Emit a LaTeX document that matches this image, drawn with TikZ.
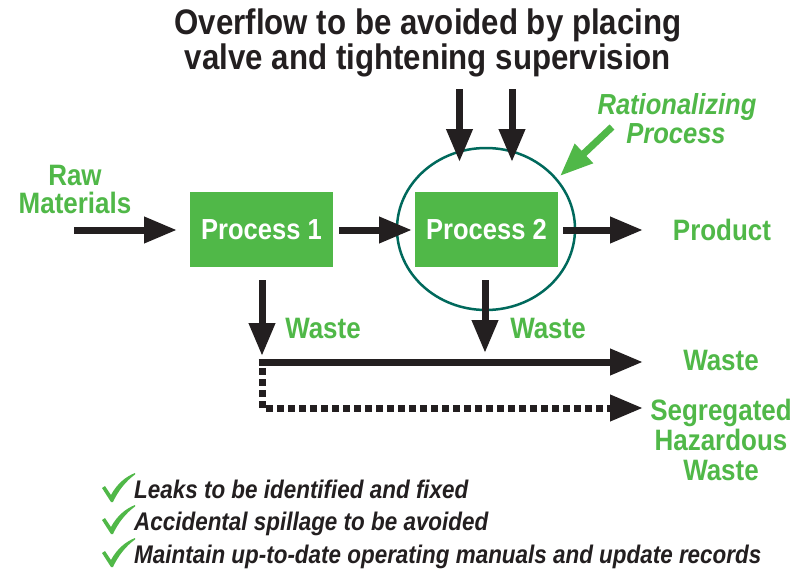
\documentclass[tikz,border=0pt]{standalone}
\usepackage{fontspec}
\setmainfont{Liberation Sans}[FakeStretch=0.88]
\usetikzlibrary{arrows.meta,shapes.geometric}
\definecolor{grn}{RGB}{80,184,72}
\definecolor{ink}{RGB}{35,31,32}
\definecolor{ringc}{RGB}{0,105,92}
\begin{document}
\begin{tikzpicture}[x=1pt,y=-1pt,
  arr/.style={draw=ink, line width=7pt, -{Triangle[length=33pt,width=25pt]}},
  garr/.style={arr, draw=grn},
  darr/.style={arr, dash pattern=on 7pt off 4pt},
  title/.style={text=ink, font=\fontsize{35.5}{31}\selectfont\bfseries, inner sep=0, anchor=base, align=center},
  lbl/.style={text=grn, font=\fontsize{29.5}{30}\selectfont\bfseries, inner sep=0, anchor=base},
  ilbl/.style={text=grn, font=\fontsize{29}{29}\selectfont\bfseries\itshape, inner sep=0, anchor=base},
  proc/.style={fill=grn, text=white, minimum width=143pt, minimum height=75pt, inner sep=0,
               font=\fontsize{29}{30}\selectfont\bfseries},
  note/.style={text=ink, font=\fontsize{25.5}{26}\selectfont\bfseries\itshape, inner sep=0, anchor=base west},
  chk/.pic={\fill[grn] (0,15) -- (3,13) -- (9,22) .. controls (15,11) and (23,4) .. (33,0)
     -- (33,1.5) .. controls (24,8) and (16,18) .. (11,29) -- (9,29) -- cycle;}
]
\path[use as bounding box, fill=white] (0,0) rectangle (804,570);

% title (anchor base = baseline of the last line)
\node[title] (t1) at (428,69) {Overflow to be avoided by placing\\valve and tightening supervision};

% processes
\node[proc] (p1) at (261.5,229.5) {Process 1};
\node[proc] (p2) at (486.5,229.5) {Process 2};
\node[draw=ringc, line width=2.5pt, ellipse, minimum width=178pt, minimum height=162pt, inner sep=0] (ring) at (486,229) {};

% labels
\node[lbl] (raw1) at (75,185) {Raw};
\node[lbl] (raw2) at (75,213) {Materials};
\node[lbl] (prod) at (722,240) {Product};
\node[lbl] (w1) at (323,338) {Waste};
\node[lbl] (w2) at (548,338) {Waste};
\node[lbl] (w3) at (721,370) {Waste};
\node[lbl] (s1) at (721,420) {Segregated};
\node[lbl] (s2) at (721,450) {Hazardous};
\node[lbl] (s3) at (721,480) {Waste};
\node[ilbl] (r1) at (677,114) {Rationalizing};
\node[ilbl] (r2) at (676,143) {Process};

% coordinates for arrows
\coordinate (rawS) at (74,230);
\coordinate (rawE) at (177,230);
\coordinate (p12S) at (339,230);
\coordinate (p12E) at (412,230);
\coordinate (prS) at (563,230);
\coordinate (prE) at (643,230);
\coordinate (o1S) at (459.5,89);
\coordinate (o1E) at (459.5,162);
\coordinate (o2S) at (512,89);
\coordinate (o2E) at (512,162);
\coordinate (gS) at (612,127);
\coordinate (gE) at (560,176);
\coordinate (wa1S) at (262,280);
\coordinate (wa1E) at (262,356);
\coordinate (wa2S) at (485,280);
\coordinate (wa2E) at (485,353);
\coordinate (wlS) at (258.5,362);
\coordinate (wlE) at (643,362);
\coordinate (dS) at (262,368);
\coordinate (dE) at (643,408);

\draw[arr] (rawS) -- (rawE);
\draw[arr] (p12S) -- (p12E);
\draw[arr] (prS) -- (prE);
\draw[arr] (o1S) -- (o1E);
\draw[arr] (o2S) -- (o2E);
\draw[garr] (gS) -- (gE);
\draw[arr] (wa1S) -- (wa1E);
\draw[arr] (wa2S) -- (wa2E);
\draw[arr] (wlS) -- (wlE);
\draw[darr] (dS) |- (dE);

% checklist
\pic at (102,473) {chk};
\pic at (102,505) {chk};
\pic at (102,538) {chk};
\node[note] (n1) at (134,498) {Leaks to be identified and fixed};
\node[note] (n2) at (134,530) {Accidental spillage to be avoided};
\node[note] (n3) at (134,563) {Maintain up-to-date operating manuals and update records};
\end{tikzpicture}
\end{document}
